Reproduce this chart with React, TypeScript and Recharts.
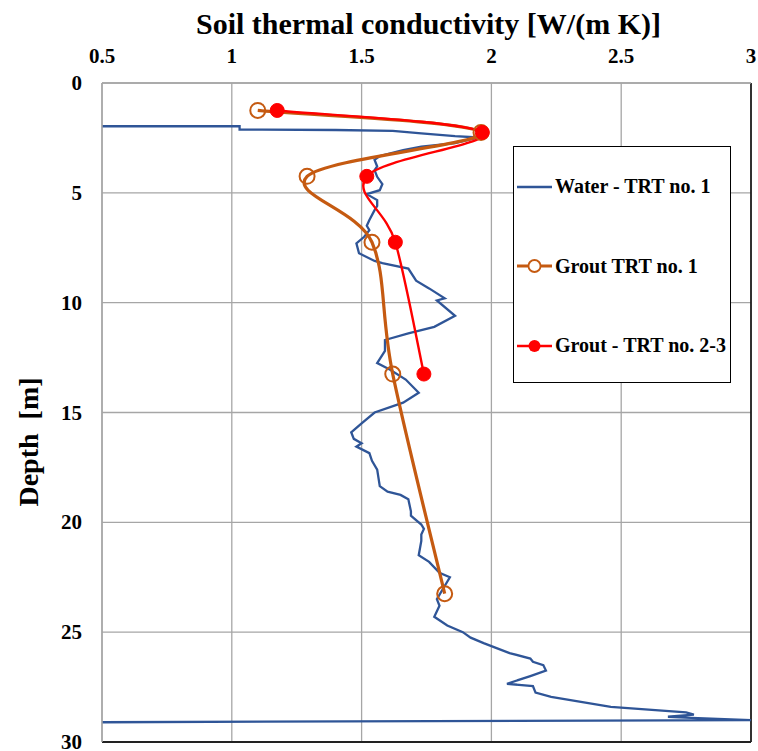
import {
  LineChart,
  Line,
  XAxis,
  YAxis,
  CartesianGrid,
  ReferenceLine,
  Legend,
} from 'recharts';

// Water - TRT no. 1 (depth in m, conductivity in W/(m K))
const waterDepth = [
  1.97, 1.97, 2.12, 2.14, 2.18, 2.29, 2.42, 2.48, 2.74, 2.9, 3.06, 3.33, 3.5, 3.8,
  3.97, 4.27, 4.6, 4.88, 5.06, 5.33, 5.6, 5.79, 6.24, 6.5, 6.7, 7.0, 7.3, 7.75,
  8.1, 8.2, 8.45, 9.0, 9.35, 9.8, 9.9, 10.6, 11.1, 11.4, 11.7, 12.2, 12.75, 13.05,
  13.5, 14.1, 14.55, 15.0, 15.5, 15.9, 16.2, 16.4, 16.55, 16.85, 17.2, 17.6, 18.35,
  18.6, 18.75, 18.95, 19.5, 19.7, 20.1, 20.3, 20.55, 20.85, 21.5, 21.8, 22.3, 22.5,
  22.9, 23.5, 23.8, 24.3, 24.7, 25.0, 25.25, 25.5, 25.95, 26.2, 26.35, 26.5, 26.75,
  27.0, 27.35, 27.45, 27.75, 27.95, 28.4, 28.65, 28.75, 28.85, 28.9, 29.0, 29.1,
];
const waterK = [
  0.5, 1.03, 1.03, 1.4, 1.62, 1.73, 1.86, 1.95, 1.86, 1.73, 1.66, 1.57, 1.55, 1.56,
  1.55, 1.56, 1.58, 1.57, 1.52, 1.56, 1.56, 1.55, 1.53, 1.52, 1.53, 1.51, 1.48, 1.49,
  1.55, 1.58, 1.68, 1.71, 1.76, 1.82, 1.79, 1.86, 1.78, 1.68, 1.59, 1.59, 1.56, 1.61,
  1.67, 1.72, 1.66, 1.55, 1.5, 1.46, 1.47, 1.5, 1.48, 1.53, 1.54, 1.56, 1.57,
  1.6, 1.65, 1.68, 1.69, 1.69, 1.73, 1.74, 1.73, 1.73, 1.72, 1.76, 1.8, 1.84,
  1.82, 1.79, 1.8, 1.78, 1.83, 1.89, 1.92, 1.97, 2.07, 2.15, 2.16, 2.2, 2.21,
  2.15, 2.06, 2.16, 2.17, 2.23, 2.46, 2.75, 2.78, 2.68, 2.77, 3.0, 0.5,
];

// Grout TRT no. 1
const grout1Depth = [1.25, 2.25, 4.25, 7.25, 13.25, 23.25];
const grout1K = [1.1, 1.96, 1.29, 1.54, 1.62, 1.82];

// Grout - TRT no. 2-3
const grout23Depth = [1.25, 2.25, 4.25, 7.25, 13.25];
const grout23K = [1.175, 1.965, 1.52, 1.63, 1.74];

const kTicks = [0.5, 1, 1.5, 2, 2.5, 3];
const depthTicks = [0, 5, 10, 15, 20, 25, 30];

const water = waterDepth.map((depth, i) => ({ depth, k: waterK[i] }));
const grout1 = grout1Depth.map((depth, i) => ({ depth, k: grout1K[i] }));
const grout23 = grout23Depth.map((depth, i) => ({ depth, k: grout23K[i] }));

const FONT = '"Liberation Serif", "Times New Roman", serif';
const BLUE = '#2f5597';
const ORANGE = '#c55a11';
const RED = '#ff0000';
const GRID = '#a6a6a6';

// Excel-like "smoothed line": cardinal bezier through every point
function excelSmooth(context: any) {
  let pts: [number, number][] = [];
  return {
    areaStart() {},
    areaEnd() {},
    lineStart() {
      pts = [];
    },
    point(x: number, y: number) {
      pts.push([+x, +y]);
    },
    lineEnd() {
      const n = pts.length;
      if (!n) return;
      context.moveTo(pts[0][0], pts[0][1]);
      for (let i = 0; i < n - 1; i++) {
        const p0 = pts[Math.max(i - 1, 0)];
        const p1 = pts[i];
        const p2 = pts[i + 1];
        const p3 = pts[Math.min(i + 2, n - 1)];
        context.bezierCurveTo(
          p1[0] + (p2[0] - p0[0]) / 6,
          p1[1] + (p2[1] - p0[1]) / 6,
          p2[0] - (p3[0] - p1[0]) / 6,
          p2[1] - (p3[1] - p1[1]) / 6,
          p2[0],
          p2[1],
        );
      }
    },
  };
}

const legendItems = [
  { name: 'Water - TRT no. 1', color: BLUE, marker: 'none' },
  { name: 'Grout TRT no. 1', color: ORANGE, marker: 'open' },
  { name: 'Grout - TRT no. 2-3', color: RED, marker: 'filled' },
];

function LegendBox() {
  return (
    <div
      style={{
        width: 218,
        height: 237,
        boxSizing: 'border-box',
        border: '1.5px solid #000',
        background: '#fff',
        paddingTop: 22,
      }}
    >
      {legendItems.map((it) => (
        <div
          key={it.name}
          style={{ display: 'flex', alignItems: 'center', height: 79.5, marginTop: -22, marginBottom: 22 }}
        >
          <svg width={38} height={20} style={{ marginLeft: 3 }}>
            <line x1={0} x2={35} y1={10} y2={10} stroke={it.color} strokeWidth={it.marker === 'open' ? 3 : 2.5} />
            {it.marker === 'open' && <circle cx={17.5} cy={10} r={6} fill="#fff" stroke={it.color} strokeWidth={1.8} />}
            {it.marker === 'filled' && <circle cx={17.5} cy={10} r={6} fill={it.color} />}
          </svg>
          <span style={{ fontFamily: FONT, fontWeight: 'bold', fontSize: 20, color: '#000', whiteSpace: 'pre' }}>
            {it.name}
          </span>
        </div>
      ))}
    </div>
  );
}

function XTick(props: any) {
  const { x, y, payload } = props;
  return (
    <text x={x} y={y} textAnchor="middle" fontFamily={FONT} fontWeight="bold" fontSize={21} fill="#000">
      {payload.value}
    </text>
  );
}

function YTick(props: any) {
  const { x, y, payload } = props;
  return (
    <text x={x} y={y + 7} textAnchor="end" fontFamily={FONT} fontWeight="bold" fontSize={21} fill="#000">
      {payload.value}
    </text>
  );
}

export default function App() {
  return (
    <div style={{ position: 'fixed', left: 8, top: 8, width: 750, height: 743 }}>
      <LineChart
        width={750}
        height={743}
        layout="vertical"
        margin={{ top: 34, right: 7, bottom: 9, left: 0 }}
        style={{ background: '#fff', overflow: 'visible' }}
      >
        <CartesianGrid stroke={GRID} strokeWidth={1.3} />
        <XAxis
          type="number"
          orientation="top"
          dataKey="k"
          domain={[0.5, 3]}
          ticks={kTicks}
          allowDataOverflow
          height={41}
          tickSize={0}
          tickMargin={20}
          tickLine={false}
          axisLine={{ stroke: GRID, strokeWidth: 1.5 }}
          tick={<XTick />}
          label={{
            content: (p: any) => (
              <text
                x={p.viewBox.x + p.viewBox.width / 2 + 2}
                y={p.viewBox.y - 8}
                textAnchor="middle"
                fontFamily={FONT}
                fontWeight="bold"
                fontSize={30}
                fill="#000"
              >
                Soil thermal conductivity [W/(m K)]
              </text>
            ),
          }}
        />
        <YAxis
          type="number"
          dataKey="depth"
          domain={[0, 30]}
          ticks={depthTicks}
          allowDataOverflow
          width={94}
          tickSize={0}
          tickMargin={20}
          tickLine={false}
          axisLine={{ stroke: GRID, strokeWidth: 1.5 }}
          tick={<YTick />}
          label={{
            content: () => (
              <text
                transform="translate(20,434) rotate(-90)"
                textAnchor="middle"
                dominantBaseline="central"
                fontFamily={FONT}
                fontWeight="bold"
                fontSize={28}
                fill="#000"
                style={{ whiteSpace: 'pre' }}
              >
                {'Depth  [m]'}
              </text>
            ),
          }}
        />
        <ReferenceLine x={3} stroke="#000" strokeWidth={1.5} />
        <ReferenceLine y={30} stroke="#222" strokeWidth={2} />
        <Line
          data={water}
          dataKey="k"
          name="Water - TRT no. 1"
          type="linear"
          stroke={BLUE}
          strokeWidth={2.3}
          dot={false}
          isAnimationActive={false}
        />
        <Line
          data={grout1}
          dataKey="k"
          name="Grout TRT no. 1"
          type={excelSmooth as any}
          stroke={ORANGE}
          strokeWidth={3.2}
          dot={{ r: 7.5, stroke: ORANGE, strokeWidth: 2, fill: 'none' }}
          isAnimationActive={false}
        />
        <Line
          data={grout23}
          dataKey="k"
          name="Grout - TRT no. 2-3"
          type={excelSmooth as any}
          stroke={RED}
          strokeWidth={2.4}
          dot={{ r: 7, stroke: RED, strokeWidth: 1, fill: RED }}
          isAnimationActive={false}
        />
        <Legend
          layout="horizontal"
          verticalAlign="middle"
          align="center"
          content={() => <LegendBox />}
          wrapperStyle={{ position: 'absolute', left: 505, top: 138, width: 218, height: 237 }}
        />
      </LineChart>
    </div>
  );
}
